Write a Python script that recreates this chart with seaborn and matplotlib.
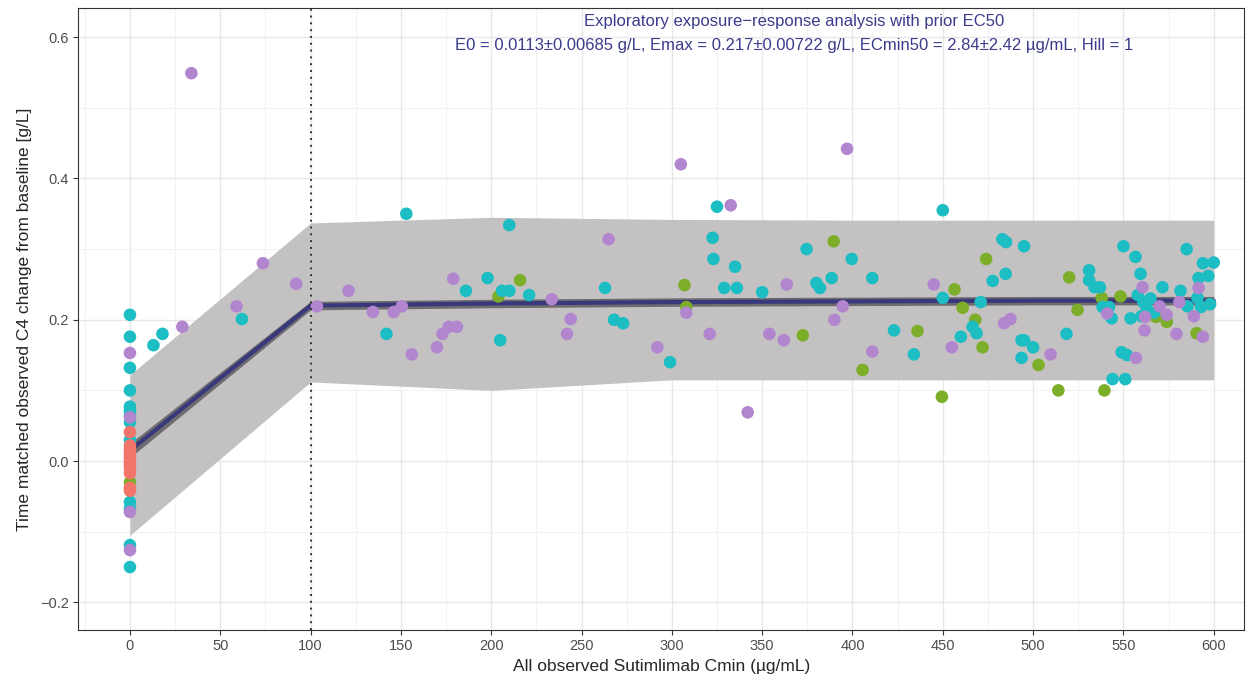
import matplotlib
matplotlib.use("Agg")
import matplotlib.pyplot as plt
import numpy as np
import pandas as pd
import seaborn as sns
from matplotlib.ticker import MultipleLocator

# observed points, one list per colour group
placebo_y = [0.041, 0.022, 0.016, 0.010, 0.005, 0.000, -0.005, -0.010, -0.017, -0.038, -0.042]

cyan_x = [0, 0, 0, 0, 0, 0, 0, 0, 0, 0, 0, 0, 0,
          13, 18, 62, 142, 153, 210, 186, 198, 206, 210, 221, 205, 263, 268, 273, 299,
          322.6, 323, 325, 335, 329, 336, 350, 374.6, 380, 382, 388.5, 399.6, 411, 423, 434,
          450, 450, 471, 477.6, 484.8, 483, 485, 495, 466.5, 468.7, 460, 493.6, 495, 500,
          493.6, 518.5, 550, 556.7, 559.5, 585, 594, 591.6, 531, 531, 534, 537, 538.5, 542,
          543.5, 554, 558, 561, 563, 565, 567, 560, 571.6, 581.6, 585.5, 593, 591, 549, 552,
          544, 551, 600, 597, 598]
cyan_y = [0.207, 0.176, 0.132, 0.100, 0.077, 0.072, 0.030, -0.058, -0.067, -0.119, -0.150, 0.065, 0.055,
          0.164, 0.180, 0.201, 0.180, 0.350, 0.334, 0.241, 0.259, 0.241, 0.241, 0.235, 0.171, 0.245, 0.200, 0.195, 0.140,
          0.316, 0.286, 0.360, 0.275, 0.245, 0.245, 0.239, 0.300, 0.252, 0.245, 0.259, 0.286, 0.259, 0.185, 0.151,
          0.355, 0.231, 0.225, 0.255, 0.265, 0.314, 0.310, 0.304, 0.190, 0.181, 0.176, 0.171, 0.171, 0.161,
          0.146, 0.180, 0.304, 0.289, 0.265, 0.300, 0.280, 0.259, 0.270, 0.256, 0.246, 0.246, 0.218, 0.218,
          0.202, 0.202, 0.235, 0.225, 0.215, 0.230, 0.210, 0.205, 0.246, 0.241, 0.219, 0.218, 0.231, 0.154, 0.150,
          0.116, 0.116, 0.281, 0.262, 0.222]

purple_x = [0, 0, 0, 0,
            29, 34, 59, 73.6, 92, 103.5, 121, 134.5, 146, 150.5, 156, 179, 170, 173, 176.5, 181,
            233.5, 244, 242, 265, 305, 332.6, 397, 308, 292, 321, 363.6, 354, 362, 342, 394.6,
            390, 411, 445, 455, 484, 487.5, 509.7, 541, 560.6, 562, 561.7, 570, 574, 581, 589,
            579.4, 594, 557, 591.6]
purple_y = [0.153, 0.062, -0.072, -0.126,
            0.190, 0.549, 0.219, 0.280, 0.251, 0.219, 0.241, 0.211, 0.211, 0.219, 0.151, 0.258, 0.161, 0.180, 0.190, 0.190,
            0.229, 0.201, 0.180, 0.314, 0.420, 0.362, 0.442, 0.210, 0.161, 0.180, 0.250, 0.180, 0.171, 0.069, 0.219,
            0.200, 0.155, 0.250, 0.161, 0.195, 0.201, 0.151, 0.209, 0.246, 0.204, 0.185, 0.219, 0.207, 0.225, 0.205,
            0.180, 0.176, 0.146, 0.245]

green_x = [0, 216, 204, 307, 308, 372.5, 389.6, 405.6, 436, 456.5, 461, 474, 468, 472, 503, 520,
           449.5, 514, 524.6, 538, 548.4, 568, 574, 590.5, 539.5]
green_y = [-0.030, 0.256, 0.233, 0.249, 0.218, 0.178, 0.311, 0.129, 0.184, 0.243, 0.217, 0.286, 0.200, 0.161,
           0.136, 0.260, 0.091, 0.100, 0.214, 0.231, 0.233, 0.204, 0.197, 0.181, 0.100]

# model prediction and intervals
fit_x = [0, 100, 200, 300, 400, 500, 600]
fit_y = [0.015, 0.220, 0.223, 0.225, 0.226, 0.227, 0.227]
fit_lo = [-0.105, 0.112, 0.100, 0.115, 0.115, 0.115, 0.115]
fit_hi = [0.122, 0.337, 0.345, 0.342, 0.341, 0.341, 0.341]
se_half = [0.010, 0.006, 0.006, 0.006, 0.006, 0.006, 0.006]

title_text = ("Exploratory exposure\u2212response analysis with prior EC50\n"
              "E0 = 0.0113\u00b10.00685 g/L, Emax = 0.217\u00b10.00722 g/L, "
              "ECmin50 = 2.84\u00b12.42 \u00b5g/mL, Hill = 1")

df = pd.concat([
    pd.DataFrame({"cmin": [0] * len(placebo_y), "dc4": placebo_y, "grp": "placebo"}),
    pd.DataFrame({"cmin": green_x, "dc4": green_y, "grp": "green"}),
    pd.DataFrame({"cmin": cyan_x, "dc4": cyan_y, "grp": "cyan"}),
    pd.DataFrame({"cmin": purple_x, "dc4": purple_y, "grp": "purple"}),
], ignore_index=True)
# placebo drawn last so it sits on top at x = 0
df["order"] = df["grp"].map({"green": 0, "cyan": 1, "purple": 2, "placebo": 3})
df = df.sort_values("order", kind="stable")

palette = {"placebo": "#F2756A", "green": "#7CAE2A", "cyan": "#1CBDC3", "purple": "#B286CF"}

sns.set_style("whitegrid")
plt.rcParams["font.family"] = ["Liberation Sans", "DejaVu Sans"]

fig = plt.figure(figsize=(12.57, 6.81), dpi=100)
ax = fig.add_axes([0.062, 0.075, 0.928, 0.913])

fx = np.array(fit_x)
fy = np.array(fit_y)
se = np.array(se_half)
ax.fill_between(fx, fit_lo, fit_hi, color="#c4c1c2", lw=0, zorder=1)
ax.fill_between(fx, fy - se, fy + se, color="#6e6c70", lw=0, zorder=2)
sns.lineplot(x=fit_x, y=fit_y, color="#38387a", lw=3, ax=ax, zorder=3)

sns.scatterplot(data=df, x="cmin", y="dc4", hue="grp", palette=palette, s=82,
                linewidth=0, legend=False, ax=ax, zorder=4)

ax.axvline(100, color="#333333", ls=(0, (1, 2.5)), lw=1.4, zorder=5)

ax.text(0.614, 0.99, title_text, transform=ax.transAxes, ha="center", va="top",
        color="#3b3b8c", fontsize=12, linespacing=1.75)

ax.set_xlim(-28.8, 617)
ax.set_ylim(-0.239, 0.641)
ax.xaxis.set_major_locator(MultipleLocator(50))
ax.xaxis.set_minor_locator(MultipleLocator(25))
ax.yaxis.set_major_locator(MultipleLocator(0.2))
ax.yaxis.set_minor_locator(MultipleLocator(0.1))
ax.set_yticks([-0.2, 0.0, 0.2, 0.4, 0.6])
ax.set_yticklabels(["\u22120.2", "0.0", "0.2", "0.4", "0.6"])
ax.grid(which="major", color="#e8e8e8", lw=1.0)
ax.grid(which="minor", color="#f2f2f2", lw=0.8)
ax.set_axisbelow(True)
ax.tick_params(which="major", length=3.5, width=0.8, color="#333333",
               labelsize=10.5, labelcolor="#4d4d4d", bottom=True, left=True, pad=3)
ax.tick_params(which="minor", length=0)
for sp in ax.spines.values():
    sp.set_color("#333333")
    sp.set_linewidth(0.8)

ax.set_xlabel("All observed Sutimlimab Cmin (\u00b5g/mL)", fontsize=12.5, labelpad=4)
ax.set_ylabel("Time matched observed C4 change from baseline [g/L]", fontsize=12.5, labelpad=6)

plt.savefig("out.png", dpi=100)
